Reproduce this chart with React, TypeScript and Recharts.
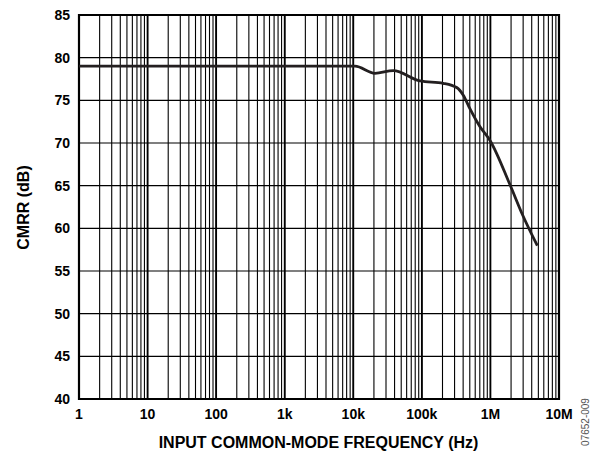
import React from 'react';
import { LineChart, Line, XAxis, YAxis, CartesianGrid, ReferenceArea, ReferenceLine, Customized } from 'recharts';

const freqs = [1, 10, 100, 1000, 10600, 20700, 38300, 94000, 205000, 322000, 402000, 504000, 705000, 986000, 1930000, 2860000, 4830000];
const cmrr = [79.0, 79.0, 79.0, 79.0, 79.0, 78.17, 78.48, 77.27, 77.0, 76.5, 75.6, 74.0, 71.9, 70.3, 65.1, 61.8, 57.96];

const decadeTicks = [1, 10, 100, 1000, 10000, 100000, 1000000, 10000000];
const decadeLabels = ['1', '10', '100', '1k', '10k', '100k', '1M', '10M'];
const minorMultipliers = [1, 2, 3, 4, 5, 6, 7, 8, 9];
const yTicks = [40, 45, 50, 55, 60, 65, 70, 75, 80, 85];

const xTicks: number[] = [];
decadeTicks.slice(0, -1).forEach((d) => minorMultipliers.forEach((m) => xTicks.push(d * m)));
xTicks.push(10000000);

const data = freqs.map((f, i) => ({ f, v: cmrr[i] }));

const FONT = '"Liberation Sans", Arial, sans-serif';

const XTick = (props: any) => {
  const { x, payload } = props;
  const idx = decadeTicks.indexOf(payload.value);
  if (idx < 0) return null;
  return (
    <text x={x} y={418.5} textAnchor="middle" fontFamily={FONT} fontWeight="bold" fontSize={14} fill="#000">
      {decadeLabels[idx]}
    </text>
  );
};

const YTick = (props: any) => {
  const { x, y, payload } = props;
  return (
    <text x={x - 1} y={y + 5} textAnchor="end" fontFamily={FONT} fontWeight="bold" fontSize={14} fill="#000">
      {payload.value}
    </text>
  );
};

const Extras = () => (
  <g>
    <text x={318.5} y={448} textAnchor="middle" fontFamily={FONT} fontWeight="bold" fontSize={16} fill="#000">
      INPUT COMMON-MODE FREQUENCY (Hz)
    </text>
    <text x={0} y={0} transform="translate(29,207.5) rotate(-90)" textAnchor="middle" fontFamily={FONT} fontWeight="bold" fontSize={16} fill="#000">
      CMRR (dB)
    </text>
    <text x={0} y={0} transform="translate(589,422) rotate(-90)" textAnchor="middle" fontFamily={FONT} fontSize={10} fill="#555">
      07652-009
    </text>
  </g>
);

export default function App() {
  return (
    <div style={{ position: 'absolute', left: 0, top: 0, width: 590, height: 452, background: '#fff' }}>
      <LineChart width={590} height={452} data={data} margin={{ top: 15, right: 31, bottom: 0, left: 0 }}>
        <CartesianGrid stroke="#000" strokeWidth={1.1} />
        <XAxis
          dataKey="f"
          type="number"
          scale="log"
          domain={[1, 10000000]}
          ticks={xTicks}
          interval={0}
          tick={<XTick />}
          tickLine={false}
          axisLine={false}
          height={53}
          allowDataOverflow
        />
        <YAxis
          type="number"
          domain={[40, 85]}
          ticks={yTicks}
          interval={0}
          tick={<YTick />}
          tickLine={false}
          axisLine={false}
          width={79}
        />
        {decadeTicks.map((d) => (
          <ReferenceLine key={d} x={d} stroke="#000" strokeWidth={1.8} ifOverflow="visible" />
        ))}
        <ReferenceArea x1={1} x2={10000000} y1={40} y2={85} fill="none" stroke="#000" strokeWidth={2.2} ifOverflow="visible" />
        <Line type="monotone" dataKey="v" stroke="#231f20" strokeWidth={2.8} dot={false} isAnimationActive={false} />
        <Customized component={Extras} />
      </LineChart>
    </div>
  );
}
